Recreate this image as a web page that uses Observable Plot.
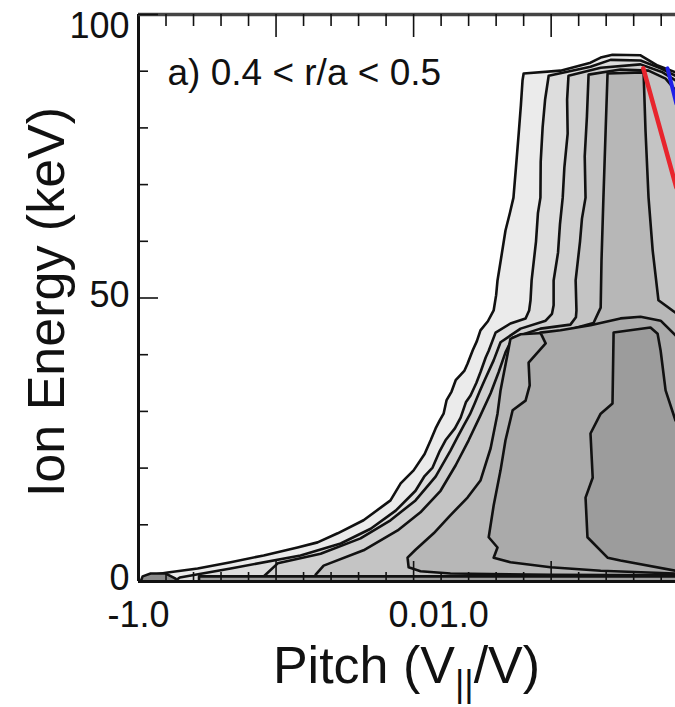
<!DOCTYPE html>
<html><head><meta charset="utf-8">
<script src="https://cdn.jsdelivr.net/npm/d3@7"></script>
<script src="https://cdn.jsdelivr.net/npm/@observablehq/plot@0.6"></script>
<style>body{margin:0;background:#fff} svg{display:block}</style>
</head><body><div id="chart"></div>
<script>
const FONT = '"Liberation Sans", Arial, Helvetica, sans-serif';
// axis values and labels
const yTickValues = [0, 50];
const yTopTick = [100];
const yTickLabels = ["0", "50"];
const yTopLabel = ["100"];
const yMinorTicks = [10, 20, 30, 40, 60, 70, 80, 90];
const xMajorTicks = [-0.5, 0, 0.5];
const xMinorTicks = [-0.9, -0.8, -0.7, -0.6, -0.4, -0.3, -0.2, -0.1, 0.1, 0.2, 0.3, 0.4, 0.6, 0.7, 0.8, 0.9];
const xTickLabelLeft = [{x: -1, t: "-1.0"}];
const xTickLabelMid = [{x: 0, t: "0.01.0"}];
const xLabelParts = ["Pitch (V", "||", "/V)"];
const yLabel = "Ion Energy (keV)";
const panelLabel = "a) 0.4 < r/a < 0.5";

// contour levels: [pitch, energy keV] polygons, outer to inner
const level1 = [[-0.974,0],[-0.974,0.5],[-0.956,1.1],[-0.894,1.6],[-0.785,2.3],[-0.665,3.4],[-0.545,4.6],[-0.422,6.0],[-0.349,6.9],[-0.276,8.5],[-0.182,10.8],[-0.084,14.3],[-0.047,17.3],[0,19.6],[0.040,22.5],[0.062,24.9],[0.080,27.0],[0.095,28.4],[0.109,29.6],[0.120,32.0],[0.138,33.5],[0.153,35.5],[0.170,36.4],[0.185,37.2],[0.196,38.4],[0.215,40.8],[0.230,42.4],[0.243,44.3],[0.270,45.9],[0.291,47.8],[0.300,50.5],[0.305,53.1],[0.318,57.0],[0.334,61.9],[0.350,65.0],[0.363,67.7],[0.372,73.0],[0.382,79.0],[0.390,84.0],[0.396,88.4],[0.400,89.6],[0.534,90.1],[0.643,91.5],[0.680,92.4],[0.723,92.9],[0.825,92.8],[0.887,91.0],[0.952,89.8],[1.1,88],[1.1,0]];
const level2 = [[-0.87,0],[-0.85,0.7],[-0.665,2.3],[-0.411,4.6],[-0.265,6.7],[-0.156,9.3],[-0.065,12.5],[0.007,16.0],[0.040,18.6],[0.069,20.1],[0.095,23.0],[0.116,24.9],[0.150,27.0],[0.171,28.9],[0.190,31.6],[0.207,32.8],[0.228,35.0],[0.243,36.9],[0.262,39.5],[0.273,40.7],[0.298,43.9],[0.352,45.5],[0.407,46.4],[0.420,47.8],[0.425,49.6],[0.429,53.1],[0.445,60.0],[0.452,65.0],[0.461,67.7],[0.462,74.0],[0.469,80.1],[0.478,85.0],[0.491,89.2],[0.643,90.8],[0.716,92.0],[0.825,91.9],[0.898,90.5],[0.952,89.2],[1.1,87],[1.1,0]];
const level3 = [[-0.574,0],[-0.549,0.7],[-0.494,3.2],[-0.338,4.9],[-0.193,7.6],[-0.084,10.8],[0.007,14.3],[0.080,18.5],[0.134,23.1],[0.160,25.5],[0.182,27.5],[0.205,29.5],[0.222,31.4],[0.240,33.5],[0.258,35.5],[0.291,39.0],[0.316,42.2],[0.389,44.6],[0.480,46.0],[0.503,47.2],[0.509,48.7],[0.509,53.1],[0.525,58.0],[0.532,63.0],[0.542,67.7],[0.548,73.0],[0.560,79.0],[0.558,85.0],[0.563,89.2],[0.680,90.6],[0.825,91.2],[0.905,89.8],[0.952,88.4],[1.1,85],[1.1,0]];
const level4 = [[-0.367,0],[-0.356,1.2],[-0.327,2.8],[-0.182,5.5],[-0.058,9.0],[0.025,12.2],[0.098,16.0],[0.153,20.5],[0.200,24.9],[0.243,29.3],[0.280,33.2],[0.309,36.9],[0.334,40.4],[0.360,43.0],[0.461,44.6],[0.570,45.3],[0.590,46.6],[0.592,47.8],[0.589,53.1],[0.605,60.0],[0.612,64.0],[0.625,67.7],[0.622,75.0],[0.630,82.0],[0.636,89.4],[0.752,90.3],[0.854,90.1],[0.916,88.7],[0.952,86.6],[1.1,80],[1.1,0]];
const level5 = [[0.705,89.6],[0.698,79.5],[0.690,67.7],[0.683,56.6],[0.680,48.3],[0.654,45.6],[0.534,44.0],[0.389,43.6],[0.352,42.8],[0.342,40.2],[0.325,36.0],[0.316,33.7],[0.305,29.6],[0.280,23.5],[0.243,17.8],[0.196,14.8],[0.130,11.5],[0.073,8.5],[0.007,5.6],[-0.022,4.2],[-0.018,2.5],[0.025,1.8],[0.134,1.4],[0.498,1.2],[0.952,1.1],[1.1,1.1],[1.1,47],[0.952,47.4],[0.890,49.6],[0.869,58.4],[0.854,67.7],[0.843,79.5],[0.836,89.8]];
const level6 = [[0.461,43.9],[0.480,42.0],[0.418,38.6],[0.422,34.6],[0.407,31.9],[0.360,30.2],[0.334,24.9],[0.316,19.6],[0.291,13.4],[0.273,7.8],[0.305,6.0],[0.291,4.2],[0.352,3.4],[0.498,2.5],[0.680,1.9],[0.952,1.4],[1.1,1.4],[1.1,40],[0.952,43.4],[0.898,46.0],[0.825,46.7],[0.752,46.4],[0.643,45.2],[0.534,44.3]];
const level7 = [[0.727,43.9],[0.861,44.8],[0.887,43.7],[0.898,40.7],[0.916,33.7],[0.952,28.4],[1.1,25],[1.1,2],[0.952,1.9],[0.752,3.7],[0.705,4.2],[0.632,7.8],[0.625,14.8],[0.651,18.3],[0.643,26.1],[0.680,29.6],[0.723,31.4]];
const cornerBlob = [[-0.992,0],[-0.985,0.9],[-0.956,1.4],[-0.901,1.4],[-0.865,0.5],[-0.865,0]];
const bottomStrip = [[-0.78,0],[-0.78,0.9],[1.1,0.9],[1.1,0]];
const levels = [level1, level2, level3, level4, level5, level6, level7];
const levelFills = ["#ebebeb", "#dddddd", "#d0d0d0", "#c4c4c4", "#b7b7b7", "#aaaaaa", "#9c9c9c"];
const redLine = [[0.835,90.5],[0.955,69.5]];
const blueLine = [[0.923,90.5],[0.955,84.3]];

const W = 675, H = 707, ML = 138, MT = 14, MB = 126, MR = 0;
const PW = W - ML - MR, PH = H - MT - MB;

const contour = (pts, fill) => Plot.line(pts, {x: d => d[0], y: d => d[1], fill, stroke: "#111", strokeWidth: 2.6, curve: "linear-closed", strokeLinejoin: "round", clip: true});

const plot = Plot.plot({
  width: W, height: H,
  marginLeft: ML, marginRight: MR, marginTop: MT, marginBottom: MB,
  style: {fontFamily: FONT, background: "white", color: "black", overflow: "visible"},
  x: {domain: [-1, 0.952], axis: null},
  y: {domain: [0, 100], axis: null},
  marks: [
    ...levels.map((lv, i) => contour(lv, levelFills[i])),
    contour(bottomStrip, "#a0a0a0"),
    contour(cornerBlob, "#8a8a8a"),
    Plot.line(redLine, {x: d => d[0], y: d => d[1], stroke: "#e8252d", strokeWidth: 4.5, clip: true}),
    Plot.line(blueLine, {x: d => d[0], y: d => d[1], stroke: "#1f1fe8", strokeWidth: 4, clip: true}),
    // frame
    Plot.ruleX([-1], {stroke: "#111", strokeWidth: 3}),
    Plot.ruleY([0], {stroke: "#111", strokeWidth: 3}),
    Plot.ruleY([100], {stroke: "#444", strokeWidth: 3.5}),
    // y ticks (inward)
    Plot.tickY([...yTickValues, ...yTopTick], {y: d => d, stroke: "#111", strokeWidth: 1.6, insetRight: PW - 20}),
    Plot.tickY(yMinorTicks, {y: d => d, stroke: "#111", strokeWidth: 1.6, insetRight: PW - 10}),
    // x ticks top and bottom (inward)
    Plot.tickX(xMajorTicks, {x: d => d, stroke: "#111", strokeWidth: 1.6, insetBottom: PH - 23}),
    Plot.tickX(xMinorTicks, {x: d => d, stroke: "#111", strokeWidth: 1.6, insetBottom: PH - 12}),
    Plot.tickX(xMajorTicks, {x: d => d, stroke: "#111", strokeWidth: 1.6, insetTop: PH - 20}),
    Plot.tickX(xMinorTicks, {x: d => d, stroke: "#111", strokeWidth: 1.6, insetTop: PH - 9}),
    // tick labels
    Plot.text(yTickValues, {x: -1, y: d => d, text: (d, i) => yTickLabels[i], textAnchor: "end", dx: -9, dy: -3, fontSize: 36, fill: "#111"}),
    Plot.text(yTopTick, {x: -1, y: d => d, text: (d, i) => yTopLabel[i], textAnchor: "end", dx: -9, dy: -2, lineAnchor: "top", fontSize: 36, fill: "#111"}),
    Plot.text(xTickLabelLeft, {x: "x", y: 0, text: "t", lineAnchor: "top", dy: 20, fontSize: 36, fill: "#111"}),
    Plot.text(xTickLabelMid, {x: "x", y: 0, text: "t", textAnchor: "start", dx: -25, lineAnchor: "top", dy: 20, fontSize: 36, fill: "#111"}),
    // panel label
    Plot.text([panelLabel], {frameAnchor: "top-left", text: d => d, textAnchor: "start", lineAnchor: "middle", dx: 29, dy: 59, fontSize: 37, fill: "#111"}),
    // y axis label
    Plot.text([yLabel], {frameAnchor: "left", text: d => d, rotate: -90, lineAnchor: "bottom", textAnchor: "middle", dx: -75, dy: 4, fontSize: 52, fill: "#111"})
  ]
});

// x axis label with subscript
const svg = d3.select(plot);
const xl = svg.append("text")
  .attr("x", ML + PW / 2).attr("y", 683)
  .attr("text-anchor", "middle")
  .attr("font-family", FONT).attr("font-size", 52).attr("fill", "#111");
xl.append("tspan").text(xLabelParts[0]);
xl.append("tspan").attr("font-size", 36).attr("dy", 13).text(xLabelParts[1]);
xl.append("tspan").attr("dy", -13).text(xLabelParts[2]);

document.getElementById("chart").appendChild(plot);
</script>
</body></html>
